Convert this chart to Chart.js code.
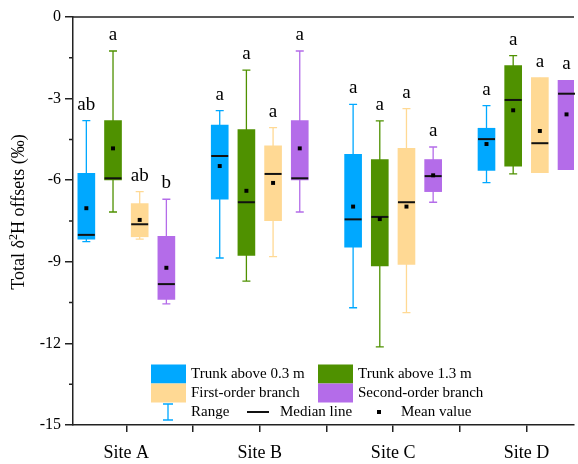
<!DOCTYPE html>
<html>
<head>
<meta charset="utf-8">
<script src="https://cdn.jsdelivr.net/npm/chart.js@4.4.1/dist/chart.umd.min.js"></script>
<style>
  html, body { margin: 0; padding: 0; background: #fff; overflow: hidden; }
  #wrap { width: 578px; height: 464px; position: relative; }
</style>
</head>
<body>
<div id="wrap"><canvas id="c"></canvas></div>
<script>
// Box plot of total δ2H offsets per site — boxes are floating bars, the rest is a small plugin.

const sites = ["Site A", "Site B", "Site C", "Site D"];
const groups = ["Trunk above 0.3 m", "Trunk above 1.3 m", "First-order branch", "Second-order branch"];
const groupColors = ["#00A8FF", "#4F9100", "#FFD994", "#B46CE9"];
const groupOffsets = [-0.3, -0.1, 0.1, 0.3];

// one row per group, one value per site (A..D)
const rangeMax = [
  [-3.81, -3.44, -3.21, -3.26],
  [-1.25, -1.95, -3.82, -1.42],
  [-6.42, -4.07, -3.37, -2.23],
  [-6.70, -1.25, -4.78, -2.33],
];
const q3 = [
  [-5.75, -3.97, -5.05, -4.09],
  [-3.81, -4.14, -5.24, -1.79],
  [-6.86, -4.74, -4.83, -2.23],
  [-8.06, -3.81, -5.24, -2.33],
];
const medians = [
  [-8.01, -5.11, -7.44, -4.49],
  [-5.93, -6.81, -7.35, -3.05],
  [-7.62, -5.77, -6.81, -4.64],
  [-9.82, -5.93, -5.85, -2.82],
];
const means = [
  [-7.03, -5.48, -6.97, -4.67],
  [-4.83, -6.39, -7.43, -3.43],
  [-7.46, -6.10, -6.97, -4.19],
  [-9.22, -4.83, -5.82, -3.58],
];
const q1 = [
  [-8.17, -6.70, -8.46, -5.64],
  [-5.99, -8.77, -9.15, -5.48],
  [-8.08, -7.49, -9.10, -5.72],
  [-10.38, -5.99, -6.42, -5.61],
];
const rangeMin = [
  [-8.26, -8.86, -10.69, -6.09],
  [-7.17, -9.71, -12.13, -5.77],
  [-8.17, -8.81, -10.87, -5.72],
  [-10.55, -7.17, -6.81, -5.61],
];
const letters = [
  ["ab", "a", "a", "a"],
  ["a", "a", "a", "a"],
  ["ab", "a", "a", "a"],
  ["b", "a", "a", "a"],
];

const yTicks = [0, -3, -6, -9, -12, -15];
const yMinorTicks = [-1.5, -4.5, -7.5, -10.5, -13.5];
const xTicks = [1, 1.5, 2, 2.5, 3, 3.5, 4];

const FONT = "'Liberation Serif', 'Times New Roman', serif";
const AXIS = "#222";

const boxDatasets = groups.map((name, g) => ({
  type: "bar",
  label: name,
  data: sites.map((_, i) => ({ x: i + 1 + groupOffsets[g], y: [q1[g][i], q3[g][i]] })),
  backgroundColor: groupColors[g],
  borderWidth: 0,
  barThickness: 17,
  grouped: false,
  order: 1,
}));

const meanDataset = {
  type: "scatter",
  label: "Mean value",
  data: groups.flatMap((_, g) => sites.map((_, i) => ({ x: i + 1 + groupOffsets[g], y: means[g][i] }))),
  pointStyle: "rect",
  pointRadius: 2.8,
  pointBorderWidth: 0,
  backgroundColor: "#000",
  order: 0,
};
const MEAN_INDEX = boxDatasets.length;

const boxExtras = {
  id: "boxExtras",
  beforeDatasetsDraw(chart) {
    // whiskers (range) behind the boxes
    const { ctx, scales: { x, y } } = chart;
    ctx.save();
    ctx.lineWidth = 1.3;
    groups.forEach((_, g) => {
      ctx.strokeStyle = groupColors[g];
      sites.forEach((_, i) => {
        const px = x.getPixelForValue(i + 1 + groupOffsets[g]);
        const top = y.getPixelForValue(rangeMax[g][i]);
        const bot = y.getPixelForValue(rangeMin[g][i]);
        ctx.beginPath();
        ctx.moveTo(px, top);
        ctx.lineTo(px, bot);
        if (rangeMax[g][i] > q3[g][i]) {
          ctx.moveTo(px - 4, top);
          ctx.lineTo(px + 4, top);
        }
        if (rangeMin[g][i] < q1[g][i]) {
          ctx.moveTo(px - 4, bot);
          ctx.lineTo(px + 4, bot);
        }
        ctx.stroke();
      });
    });
    ctx.restore();
  },
  beforeDatasetDraw(chart, args) {
    // medians go between the boxes and the mean squares
    if (args.index !== MEAN_INDEX) return;
    const { ctx, scales: { x, y } } = chart;
    ctx.save();
    ctx.strokeStyle = "#111";
    ctx.lineWidth = 2;
    groups.forEach((_, g) => {
      sites.forEach((_, i) => {
        const px = x.getPixelForValue(i + 1 + groupOffsets[g]);
        const py = y.getPixelForValue(medians[g][i]);
        ctx.beginPath();
        ctx.moveTo(px - 8.5, py);
        ctx.lineTo(px + 8.5, py);
        ctx.stroke();
      });
    });
    ctx.restore();
  },
  afterDatasetsDraw(chart) {
    const { ctx, chartArea, scales: { x, y } } = chart;
    ctx.save();

    // significance letters
    ctx.fillStyle = "#000";
    ctx.font = "19px " + FONT;
    ctx.textAlign = "center";
    ctx.textBaseline = "alphabetic";
    groups.forEach((_, g) => {
      sites.forEach((_, i) => {
        const px = x.getPixelForValue(i + 1 + groupOffsets[g]);
        const py = y.getPixelForValue(rangeMax[g][i]);
        ctx.fillText(letters[g][i], px, py - 11);
      });
    });

    // top frame line
    ctx.strokeStyle = AXIS;
    ctx.lineWidth = 1.5;
    ctx.beginPath();
    ctx.moveTo(chartArea.left, chartArea.top);
    ctx.lineTo(chartArea.right, chartArea.top);
    ctx.stroke();

    // minor ticks on y
    ctx.beginPath();
    yMinorTicks.forEach((v) => {
      const py = y.getPixelForValue(v);
      ctx.moveTo(chartArea.left - 4, py);
      ctx.lineTo(chartArea.left, py);
    });
    ctx.stroke();

    // y title with superscript 2
    ctx.translate(19, 212);
    ctx.rotate(-Math.PI / 2);
    ctx.textAlign = "left";
    ctx.textBaseline = "middle";
    const big = "18px " + FONT;
    const small = "12px " + FONT;
    const parts = [
      { t: "Total \u03b4", f: big, dy: 0 },
      { t: "2", f: small, dy: -5 },
      { t: "H offsets (\u2030)", f: big, dy: 0 },
    ];
    let total = 0;
    parts.forEach((p) => { ctx.font = p.f; p.w = ctx.measureText(p.t).width; total += p.w; });
    let cx = -total / 2;
    parts.forEach((p) => {
      ctx.font = p.f;
      ctx.fillText(p.t, cx, p.dy);
      cx += p.w;
    });
    ctx.restore();

    // legend inside the plot
    ctx.save();
    ctx.font = "15px " + FONT;
    ctx.textBaseline = "middle";
    ctx.textAlign = "left";
    const swatchX = [151, 318];
    const textX = [191, 358];
    const rowY = [374, 393, 412];
    groups.forEach((name, g) => {
      const col = g % 2;
      const row = Math.floor(g / 2);
      ctx.fillStyle = groupColors[g];
      ctx.fillRect(swatchX[col], rowY[row] - 9.5, 35, 19);
      ctx.fillStyle = "#000";
      ctx.fillText(name, textX[col], rowY[row]);
    });
    const r = rowY[2];
    ctx.strokeStyle = groupColors[0];
    ctx.lineWidth = 1.3;
    ctx.beginPath();
    ctx.moveTo(168, r - 8); ctx.lineTo(168, r + 8);
    ctx.moveTo(163, r - 8); ctx.lineTo(173, r - 8);
    ctx.moveTo(163, r + 8); ctx.lineTo(173, r + 8);
    ctx.stroke();
    ctx.fillStyle = "#000";
    ctx.fillText("Range", 191, r);
    ctx.strokeStyle = "#111";
    ctx.lineWidth = 2;
    ctx.beginPath();
    ctx.moveTo(247, r); ctx.lineTo(269, r);
    ctx.stroke();
    ctx.fillText("Median line", 280, r);
    ctx.fillRect(377, r - 2, 4, 4);
    ctx.fillText("Mean value", 401, r);
    ctx.restore();
  },
};

new Chart(document.getElementById("c"), {
  type: "bar",
  data: { datasets: [...boxDatasets, meanDataset] },
  options: {
    responsive: true,
    maintainAspectRatio: false,
    animation: false,
    layout: { padding: { top: 17, right: 0, left: 0, bottom: 0 } },
    plugins: { legend: { display: false }, tooltip: { enabled: false } },
    scales: {
      x: {
        type: "linear",
        offset: false,
        min: 0.6,
        max: 4.356,
        afterBuildTicks: (scale) => { scale.ticks = xTicks.map((v) => ({ value: v })); },
        afterFit: (scale) => { scale.height = 39; },
        ticks: {
          autoSkip: false,
          maxRotation: 0,
          padding: 10,
          color: "#000",
          font: { family: FONT, size: 18 },
          callback: (v) => (Number.isInteger(v) ? sites[v - 1] : ""),
        },
        grid: { drawOnChartArea: false, offset: false, tickLength: 7, color: AXIS, lineWidth: 1.5 },
        border: { color: AXIS, width: 1.5 },
      },
      y: {
        min: -15,
        max: 0,
        afterBuildTicks: (scale) => { scale.ticks = yTicks.map((v) => ({ value: v })); },
        afterFit: (scale) => { scale.width = 73; },
        ticks: {
          padding: 4,
          color: "#000",
          font: { family: FONT, size: 16 },
          callback: (v) => String(v),
        },
        grid: { drawOnChartArea: false, tickLength: 8, color: AXIS, lineWidth: 1.5 },
        border: { color: AXIS, width: 1.5 },
      },
    },
  },
  plugins: [boxExtras],
});
</script>
</body>
</html>
